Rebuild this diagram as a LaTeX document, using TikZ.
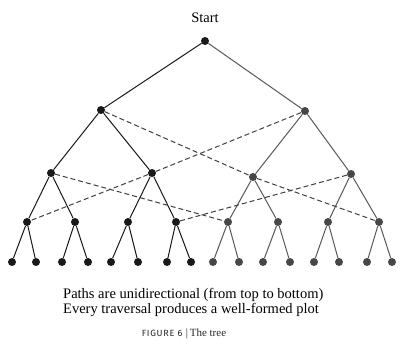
\documentclass[tikz,border=0pt]{standalone}
\usepackage{fontspec}
\setmainfont{Liberation Serif}
\newfontfamily\capfont[LetterSpace=8]{Fira Sans}
\begin{document}
\begin{tikzpicture}[x=1pt,y=-1pt,
  dotL/.style={circle,fill=black!90,inner sep=0pt,minimum size=8pt},
  dotR/.style={circle,fill=black!72,inner sep=0pt,minimum size=8pt},
  edgeL/.style={draw=black!90,line width=1pt},
  edgeR/.style={draw=black!65,line width=1pt},
  cross/.style={draw=black!75,line width=1pt,dash pattern=on 5pt off 3pt},
  txt/.style={font=\fontsize{14.5}{15}\selectfont,inner sep=0pt}]
\useasboundingbox (0,0) rectangle (400,348);
\fill[white] (0,0) rectangle (400,348);
% nodes
\node[dotL] (r) at (205,41) {};
\node[dotL] (a1) at (101,110) {};
\node[dotR] (a2) at (305,111) {};
\node[dotL] (b1) at (51,173) {};
\node[dotL] (b2) at (152,173) {};
\node[dotR] (b3) at (253,177) {};
\node[dotR] (b4) at (351,174) {};
\foreach \i/\x in {1/27,2/75,3/128,4/176}{\node[dotL] (c\i) at (\x,222) {};}
\foreach \i/\x in {5/228,6/278,7/328,8/379}{\node[dotR] (c\i) at (\x,222) {};}
\foreach \i/\x in {1/12,2/36,3/62,4/88,5/111,6/138,7/167,8/191}{\node[dotL] (d\i) at (\x,262) {};}
\foreach \i/\x in {9/213,10/239,11/263,12/290,13/314,14/339,15/367,16/392}{\node[dotR] (d\i) at (\x,262) {};}
% tree edges
\path[edgeL] (r) -- (a1);
\path[edgeR] (r) -- (a2);
\path[edgeL] (a1) -- (b1) (a1) -- (b2);
\path[edgeR] (a2) -- (b3) (a2) -- (b4);
\path[edgeL] (b1) -- (c1) (b1) -- (c2) (b2) -- (c3) (b2) -- (c4);
\path[edgeR] (b3) -- (c5) (b3) -- (c6) (b4) -- (c7) (b4) -- (c8);
\foreach \i in {1,...,4}{
  \pgfmathtruncatemacro{\l}{2*\i-1}\pgfmathtruncatemacro{\m}{2*\i}
  \path[edgeL] (c\i) -- (d\l) (c\i) -- (d\m);}
\foreach \i in {5,...,8}{
  \pgfmathtruncatemacro{\l}{2*\i-1}\pgfmathtruncatemacro{\m}{2*\i}
  \path[edgeR] (c\i) -- (d\l) (c\i) -- (d\m);}
% dashed cross links
\path[cross] (a1) -- (b3);
\path[cross] (a2) -- (b2);
\path[cross] (b1) -- (c5);
\path[cross] (b2) -- (c1);
\path[cross] (b3) -- (c8);
\path[cross] (b4) -- (c4);
% texts
\node[txt] (start) at (205,18) {Start};
\node[txt,align=left,anchor=west] (cap) at (63,302) {Paths are unidirectional (from top to bottom)\\Every traversal produces a well-formed plot};
\node[inner sep=0pt,text=black!85] (fig) at (184,334) {{\capfont\fontsize{9}{10}\selectfont FIGURE 6}\,{\fontsize{11}{12}\selectfont\,|\,The tree}};
\end{tikzpicture}
\end{document}
